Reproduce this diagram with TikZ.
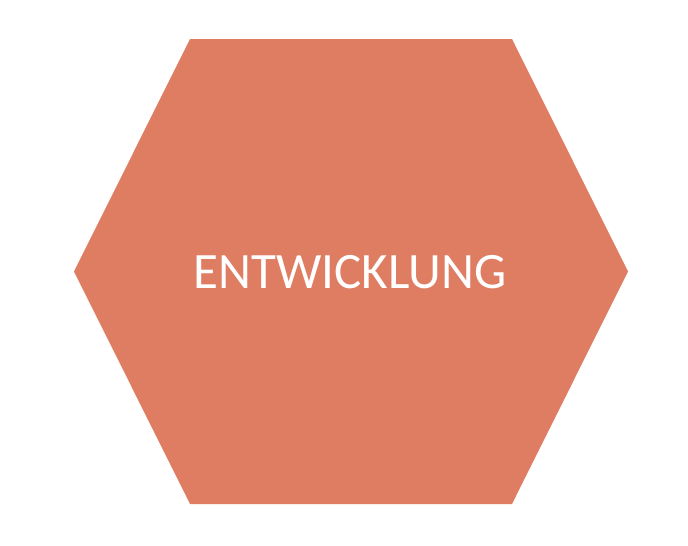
\documentclass[tikz,border=0pt]{standalone}
\usepackage{fontspec}
\setmainfont{Carlito}
\definecolor{hexfill}{HTML}{DF7D63}
\begin{document}
\begin{tikzpicture}[x=1pt,y=-1pt,
  hexstyle/.style={fill=hexfill,draw=none},
  labelstyle/.style={text=white,font=\fontsize{51}{55}\selectfont,inner sep=0pt,anchor=base}]
\useasboundingbox (0,0) rectangle (688,546);
\fill[hexstyle] (190,39) -- (512,39) -- (628,271.5) -- (512,504) -- (190,504) -- (74,271.5) -- cycle;
\node[labelstyle] (lbl) at (350,288) {ENTWICKLUNG};
\end{tikzpicture}
\end{document}
